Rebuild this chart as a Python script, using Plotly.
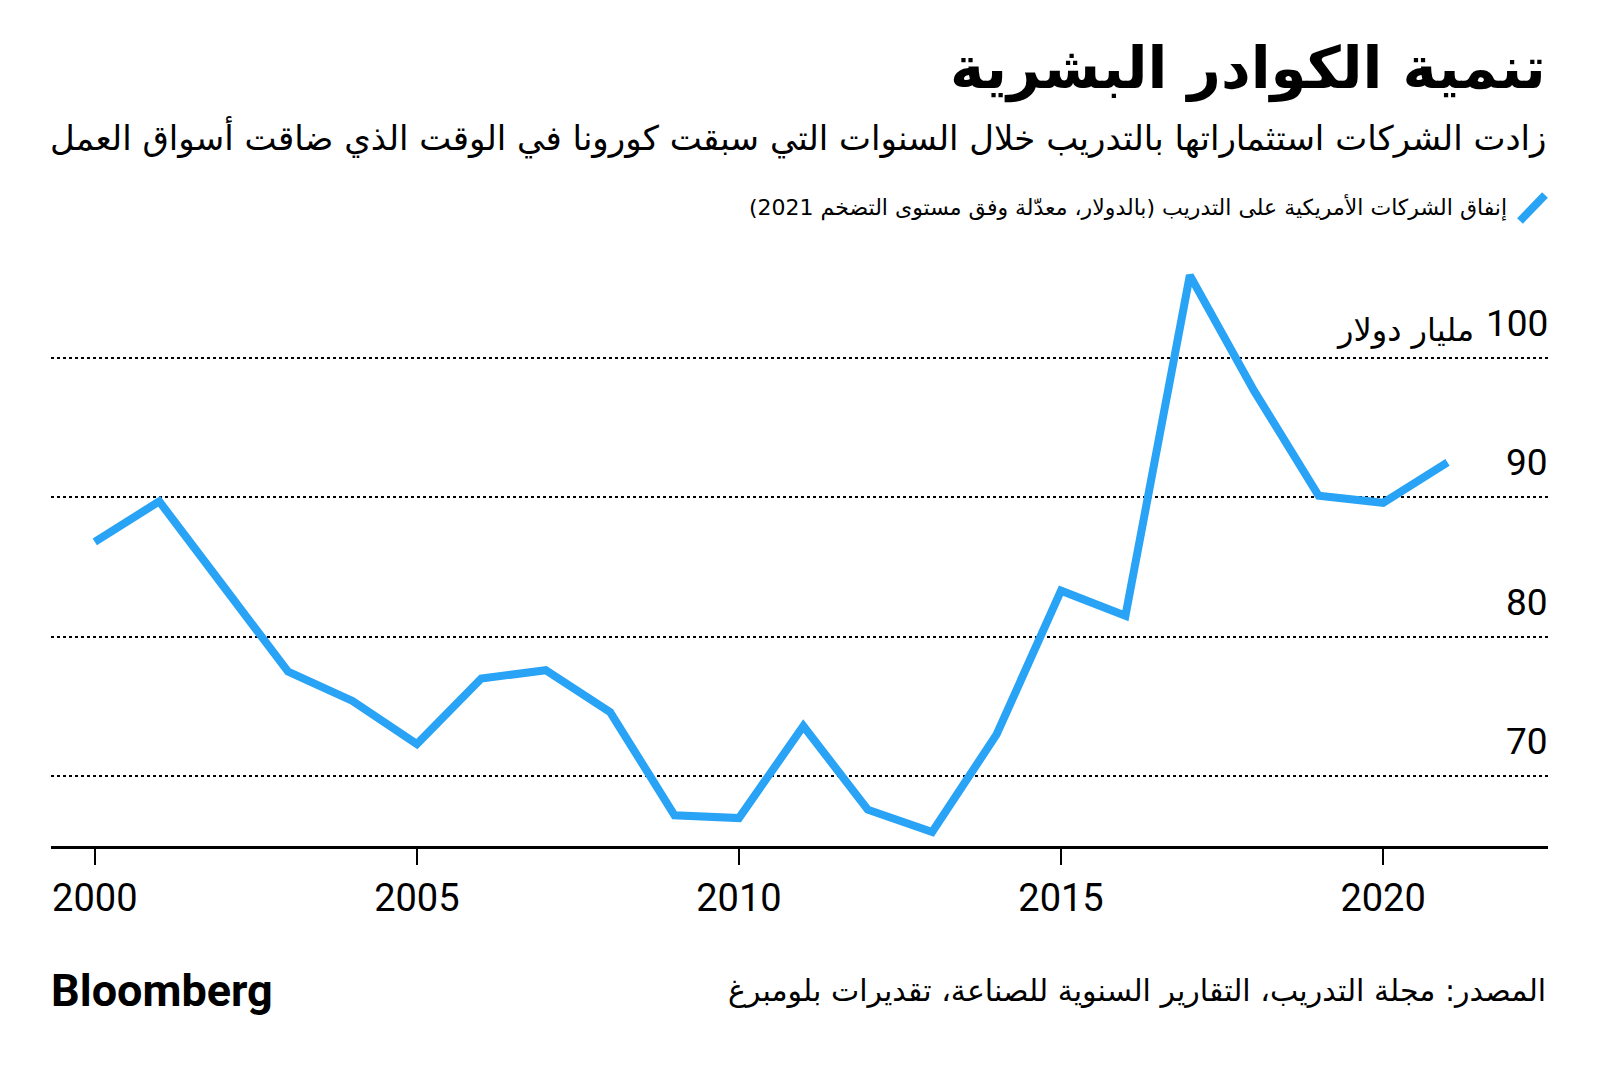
import plotly.graph_objects as go

# US corporate training spend, inflation-adjusted (2021 $bn)
years = list(range(2000, 2022))
spend = [86.8, 89.7, 83.6, 77.5, 75.4, 72.3, 77.0, 77.6, 74.6, 67.2, 67.0,
         73.6, 67.6, 66.0, 73.0, 83.3, 81.5, 105.9, 97.6, 90.1, 89.6, 92.5]

y_ticks = [70, 80, 90, 100]
y_labels = ["70", "80", "90", "100"]
y_unit = "مليار دولار"
x_ticks = [2000, 2005, 2010, 2015, 2020]

title = "تنمية الكوادر البشرية"
subtitle = "زادت الشركات استثماراتها بالتدريب خلال السنوات التي سبقت كورونا في الوقت الذي ضاقت أسواق العمل"
legend_text = "إنفاق الشركات الأمريكية على التدريب (بالدولار، معدّلة وفق مستوى التضخم 2021)"
source = "المصدر: مجلة التدريب، التقارير السنوية للصناعة، تقديرات بلومبرغ"

W, H = 1600, 1069
OFF = 8  # default page margin of the html body
# plot box in page pixels: x 51..1548, y 260..846
L, T = 51 - OFF, 260 - OFF
R = W - (1548 - OFF)
B = H - (846 - OFF)
plot_h = H - T - B
plot_w = W - L - R
blue = "#29a3f5"
ar_font = "DejaVu Sans"
num_font = "Roboto"


def py(Y):
    # page pixel row -> paper y
    return (H - B - (Y - OFF)) / plot_h


def px_(X):
    return (X - OFF - L) / plot_w


def rtl(s):
    return "\u202b" + s + "\u202c"


fig = go.Figure()
fig.add_trace(go.Scatter(x=years, y=spend, mode="lines",
                         line=dict(color=blue, width=8),
                         hoverinfo="x+y", showlegend=False))

fig.update_layout(
    width=W, height=H,
    margin=dict(l=L, r=R, t=T, b=B, autoexpand=False),
    paper_bgcolor="white", plot_bgcolor="white",
    xaxis=dict(range=[1999.32, 2022.56], tickvals=x_ticks, automargin=False,
               showgrid=False, zeroline=False,
               showline=True, linecolor="black", linewidth=3,
               ticks="outside", ticklen=16, tickwidth=2, tickcolor="black",
               ticklabelstandoff=0,
               tickfont=dict(family=num_font, size=38, color="black")),
    yaxis=dict(range=[65, 107], tickvals=y_ticks, showticklabels=False,
               automargin=False,
               showgrid=True, gridcolor="black", gridwidth=1.5, griddash="dot",
               zeroline=False, showline=False, ticks=""),
)

# y tick labels sit above their gridlines, right-aligned
for v, lab in zip(y_ticks, y_labels):
    fig.add_annotation(text=lab, xref="paper", yref="y", x=1, y=v,
                       xanchor="right", yanchor="bottom", yshift=11, xshift=2,
                       showarrow=False,
                       font=dict(family=num_font, size=37, color="black"))
fig.add_annotation(text=rtl(y_unit), xref="paper", yref="y", x=1, y=y_ticks[-1],
                   xanchor="right", yanchor="bottom", yshift=7, xshift=-72,
                   showarrow=False,
                   font=dict(family=ar_font, size=32, color="black"))

fig.add_annotation(text=rtl(title), xref="paper", yref="paper", x=1, y=py(69),
                   xanchor="right", yanchor="middle", showarrow=False,
                   font=dict(family=ar_font, size=58, color="black", weight="bold"))
fig.add_annotation(text=rtl(subtitle), xref="paper", yref="paper", x=1, y=py(137),
                   xanchor="right", yanchor="middle", showarrow=False,
                   font=dict(family=ar_font, size=34, color="black"))
fig.add_annotation(text=rtl(legend_text), xref="paper", yref="paper", x=px_(1509), y=py(207),
                   xanchor="right", yanchor="middle", showarrow=False,
                   font=dict(family=ar_font, size=22, color="black"))
fig.add_shape(type="line", xref="paper", yref="paper",
              x0=px_(1520), y0=py(221), x1=px_(1545), y1=py(195),
              line=dict(color=blue, width=8))
fig.add_annotation(text=rtl(source), xref="paper", yref="paper", x=1, y=py(990),
                   xanchor="right", yanchor="middle", showarrow=False,
                   font=dict(family=ar_font, size=30, color="black"))
fig.add_annotation(text="Bloomberg", xref="paper", yref="paper", x=0, y=py(990),
                   xanchor="left", yanchor="middle", showarrow=False, xshift=-2,
                   font=dict(family="Roboto", size=45, color="black", weight="bold"))

fig.write_html("out.html")
